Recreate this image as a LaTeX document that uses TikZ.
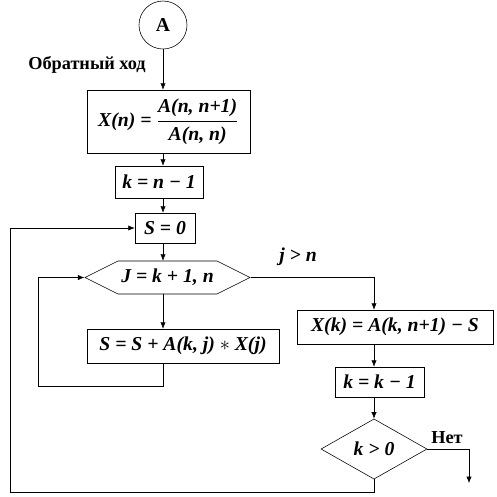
\documentclass[tikz,border=0pt,12pt]{standalone}
\usepackage{fontspec}
\setmainfont{Liberation Serif}
\usetikzlibrary{arrows.meta,shapes.geometric,shapes.symbols}

\newcommand{\ratio}[2]{$\displaystyle\frac{\mbox{#1}}{\mbox{#2}}$}
\newcommand{\formfont}{\fontsize{14}{16}\selectfont\bfseries\itshape}

\begin{document}
\begin{tikzpicture}[
        x=0.025cm,
        y=-0.025cm,
        block/.style={
            rectangle,
            draw,
            thin,
            align=center,
            font=\formfont,
            inner sep=3pt
        },
        hexbox/.style={
            signal,
            signal to=east and west,
            signal pointer angle=53,
            draw,
            thin,
            font=\formfont,
            inner sep=2pt
        },
        decision/.style={
            diamond,
            draw,
            thin,
            font=\formfont,
            inner sep=1pt
        },
        arrow/.style={
            -{Latex[length=1.6mm,width=1.3mm]},
            thin
        }
    ]

        \useasboundingbox (0,0) rectangle (497,496);

        \node[circle, draw, thin, minimum size=1.2cm, font=\fontsize{14}{16}\selectfont\bfseries] (start) at (163,25) {A};
        \node[font=\fontsize{13}{15}\selectfont\bfseries] (title) at (87,65) {Обратный ход};
        \node[block, minimum width=4.075cm, minimum height=1.575cm] (xn) at (168.5,121.5)
            {X(n) = \ratio{A(n, n+1)}{A(n, n)}};
        \node[block, minimum width=2.2cm, minimum height=0.8cm] (kn) at (159,182) {k = n − 1};
        \node[block, minimum width=1.5cm, minimum height=0.75cm] (s0) at (165,228) {S = 0};
        \node[hexbox, minimum width=4.125cm, minimum height=0.825cm] (hex) at (167.5,277.5) {J = k + 1, n};
        \node[block, minimum width=4.8cm, minimum height=0.85cm] (sum) at (183,346) {S = S + A(k, j) $*$ X(j)};
        \node[font=\formfont] (jgtn) at (298,257) {j > n};
        \node[block, minimum width=4.9cm, minimum height=0.85cm] (xk) at (395,327) {X(k) = A(k, n+1) − S};
        \node[block, minimum width=2.225cm, minimum height=0.75cm] (kk) at (379.5,382) {k = k − 1};
        \node[decision, minimum width=2.65cm, minimum height=1.25cm] (test) at (374,449) {k > 0};
        \node[font=\fontsize{13}{15}\selectfont\bfseries] (no) at (447,438) {Нет};

        \coordinate (loopin) at (38,386);
        \coordinate (exit) at (469,483);
        \coordinate (loopout) at (10,492);

        \draw[arrow] (start) -- (start |- xn.north);
        \draw[arrow] (xn.south -| start) -- (kn.north -| start);
        \draw[arrow] (kn.south -| start) -- (s0.north -| start);
        \draw[arrow] (s0.south -| start) -- (hex.north -| start);
        \draw[arrow] (hex.south -| start) -- (sum.north -| start);
        \draw[arrow] (sum.south -| start) |- (loopin) |- (hex.west);
        \draw[arrow] (hex.east) -| (xk.north -| test);
        \draw[arrow] (xk.south -| test) -- (kk.north -| test);
        \draw[arrow] (kk.south -| test) -- (test.north);
        \draw[arrow] (test.east) -| (exit);
        \draw[arrow] (test.south) |- (loopout) |- (s0.west);

    \end{tikzpicture}
\end{document}
